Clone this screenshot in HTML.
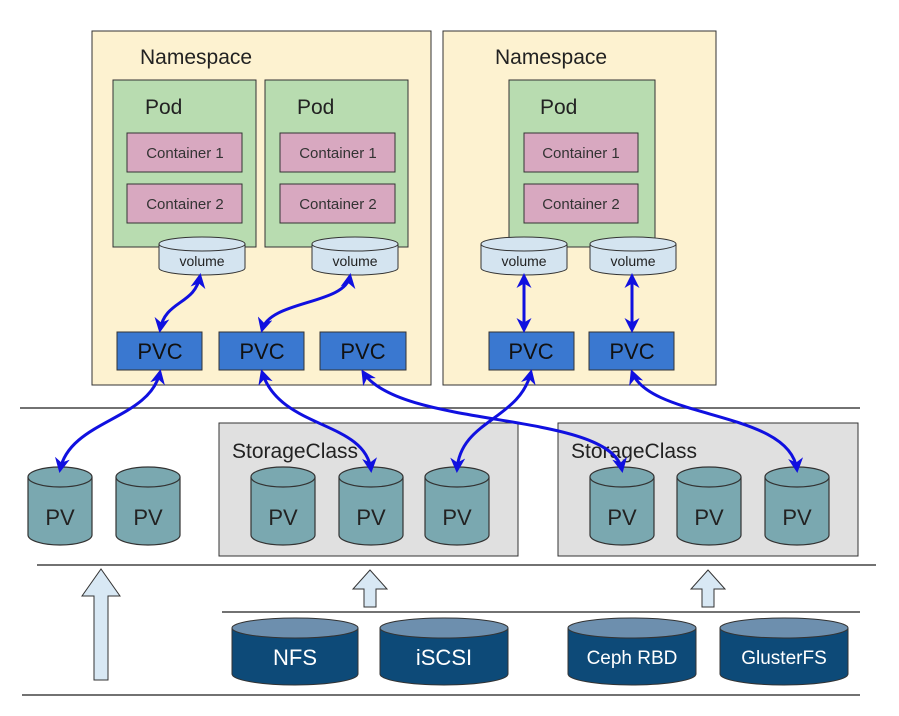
<!DOCTYPE html>
<html><head><meta charset="utf-8"><style>body{margin:0;background:#fff}</style></head><body>
<svg width="899" height="711" viewBox="0 0 899 711" xmlns="http://www.w3.org/2000/svg" font-family="Liberation Sans, sans-serif">
<defs>
<marker id="ah" viewBox="0 0 10 10" refX="8" refY="5" markerWidth="5" markerHeight="5" orient="auto-start-reverse"><path d="M0,0 L10,5 L0,10 L3,5 z" fill="#1010e0"/></marker>
<g id="pv"><path d="M-32,-28 v58 a32,10 0 0 0 64,0 v-58" fill="#7aa8b0" stroke="#333" stroke-width="1.2"/><ellipse cx="0" cy="-28" rx="32" ry="10" fill="#7aa8b0" stroke="#333" stroke-width="1.2"/><text x="0" y="20" font-size="22" text-anchor="middle" fill="#222">PV</text></g>
<g id="vol"><path d="M-43,-12 v24 a43,7 0 0 0 86,0 v-24" fill="#d4e4f0" stroke="#333"/><ellipse cx="0" cy="-12" rx="43" ry="7" fill="#d4e4f0" stroke="#333"/><text x="0" y="10" font-size="14" text-anchor="middle" fill="#222">volume</text></g>
</defs>
<rect x="92" y="31" width="339" height="354" fill="#fdf2d0" stroke="#333"/>
<rect x="443" y="31" width="273" height="354" fill="#fdf2d0" stroke="#333"/>
<text x="140" y="64" font-size="21" fill="#222">Namespace</text>
<text x="495" y="64" font-size="21" fill="#222">Namespace</text>
<g fill="#b8dcb0" stroke="#333"><rect x="113" y="80" width="143" height="167"/><rect x="265" y="80" width="143" height="167"/><rect x="509" y="80" width="146" height="167"/></g>
<g font-size="21" fill="#222"><text x="145" y="114">Pod</text><text x="297" y="114">Pod</text><text x="540" y="114">Pod</text></g>
<g fill="#d8a8c0" stroke="#333"><rect x="127" y="133" width="115" height="39"/><rect x="127" y="184" width="115" height="39"/><rect x="280" y="133" width="115" height="39"/><rect x="280" y="184" width="115" height="39"/><rect x="524" y="133" width="114" height="39"/><rect x="524" y="184" width="114" height="39"/></g>
<g font-size="15" fill="#333" text-anchor="middle"><text x="185" y="158">Container 1</text><text x="185" y="209">Container 2</text><text x="338" y="158">Container 1</text><text x="338" y="209">Container 2</text><text x="581" y="158">Container 1</text><text x="581" y="209">Container 2</text></g>
<use href="#vol" x="202" y="256"/><use href="#vol" x="355" y="256"/><use href="#vol" x="524" y="256"/><use href="#vol" x="633" y="256"/>
<g fill="#3a78d0" stroke="#333"><rect x="117" y="332" width="85" height="38"/><rect x="219" y="332" width="85" height="38"/><rect x="320" y="332" width="86" height="38"/><rect x="489" y="332" width="85" height="38"/><rect x="589" y="332" width="85" height="38"/></g>
<g font-size="22" fill="#111" text-anchor="middle"><text x="160" y="359">PVC</text><text x="262" y="359">PVC</text><text x="363" y="359">PVC</text><text x="531" y="359">PVC</text><text x="632" y="359">PVC</text></g>
<g stroke="#444" stroke-width="1.5"><line x1="20" y1="408" x2="860" y2="408"/><line x1="37" y1="565" x2="876" y2="565"/><line x1="222" y1="612" x2="860" y2="612"/><line x1="22" y1="695" x2="860" y2="695"/></g>
<rect x="219" y="423" width="299" height="133" fill="#e0e0e0" stroke="#333"/>
<rect x="558" y="423" width="300" height="133" fill="#e0e0e0" stroke="#333"/>
<text x="232" y="458" font-size="21" fill="#222">StorageClass</text>
<text x="571" y="458" font-size="21" fill="#222">StorageClass</text>
<use href="#pv" x="60" y="505"/><use href="#pv" x="148" y="505"/><use href="#pv" x="283" y="505"/><use href="#pv" x="371" y="505"/><use href="#pv" x="457" y="505"/><use href="#pv" x="622" y="505"/><use href="#pv" x="709" y="505"/><use href="#pv" x="797" y="505"/>
<g fill="#d8e8f4" stroke="#333"><path d="M94,680 v-84 h-12 l19,-27 l19,27 h-12 v84 z"/><path d="M364,607 v-18 h-11 l17,-19 l17,19 h-11 v18 z"/><path d="M702,607 v-18 h-11 l17,-19 l17,19 h-11 v18 z"/></g>
<g fill="#0d4a78" stroke="#333">
<path d="M232,628 v46 a63,11 0 0 0 126,0 v-46"/><ellipse cx="295" cy="628" rx="63" ry="10" fill="#6d8fae"/>
<path d="M380,628 v46 a64,11 0 0 0 128,0 v-46"/><ellipse cx="444" cy="628" rx="64" ry="10" fill="#6d8fae"/>
<path d="M568,628 v46 a64,11 0 0 0 128,0 v-46"/><ellipse cx="632" cy="628" rx="64" ry="10" fill="#6d8fae"/>
<path d="M720,628 v46 a64,11 0 0 0 128,0 v-46"/><ellipse cx="784" cy="628" rx="64" ry="10" fill="#6d8fae"/>
</g>
<g fill="#fff" text-anchor="middle"><text x="295" y="665" font-size="22">NFS</text><text x="444" y="665" font-size="22">iSCSI</text><text x="632" y="664" font-size="19">Ceph RBD</text><text x="784" y="664" font-size="19">GlusterFS</text></g>
<g fill="none" stroke="#1010e0" stroke-width="3" marker-start="url(#ah)" marker-end="url(#ah)">
<path d="M200,276 C195,305 165,300 160,330"/>
<path d="M350,276 C345,305 270,300 262,330"/>
<path d="M524,276 L524,330"/>
<path d="M632,276 L632,330"/>
<path d="M160,372 C150,420 70,420 60,470"/>
<path d="M262,372 C280,430 365,420 371,470"/>
<path d="M363,372 C400,430 610,410 622,470"/>
<path d="M531,372 C520,420 460,420 457,470"/>
<path d="M632,372 C650,420 790,410 797,470"/>
</g>
</svg>
</body></html>
